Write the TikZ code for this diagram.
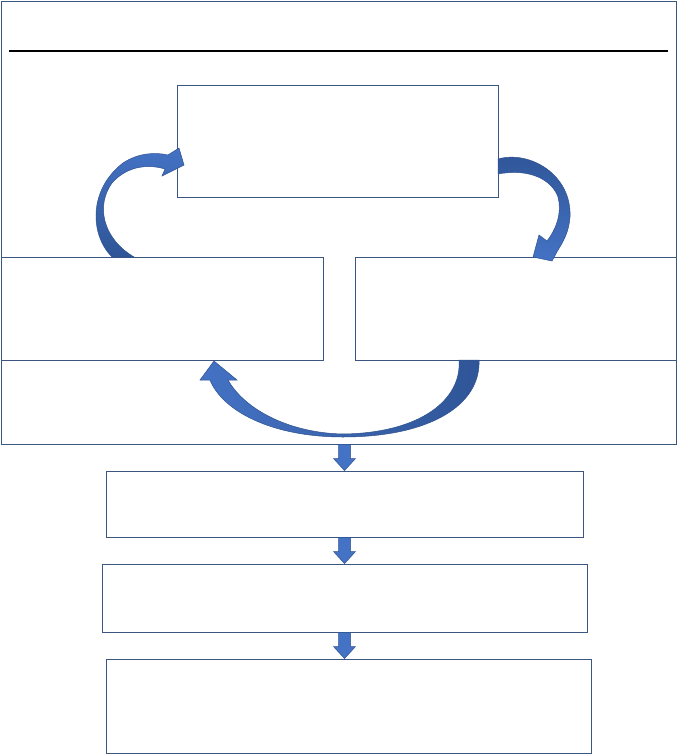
\documentclass[tikz,border=0pt]{standalone}
\usetikzlibrary{calc}
\definecolor{boxline}{RGB}{59,86,128}
\definecolor{afill}{RGB}{68,114,196}
\definecolor{adark}{RGB}{47,85,151}
\definecolor{aline}{RGB}{47,82,143}
\tikzset{
  boxnode/.style={draw=boxline, line width=0.9pt, fill=none, inner sep=0pt, rectangle},
  barrow/.style={fill=afill, draw=aline, line width=0.5pt},
  curvearrow/.style={draw=aline, line width=0.5pt},
}
\newcommand\dnarrow[2]{\filldraw[barrow] ($(#1)+(-6,0)$) -- ($(#1)+(6,0)$) -- ($(#2)+(6,-12)$) -- ($(#2)+(11,-12)$) -- (#2) -- ($(#2)+(-11,-12)$) -- ($(#2)+(-6,-12)$) -- cycle;}
\begin{document}
\begin{tikzpicture}[x=1pt,y=-1pt]
\useasboundingbox (0,0) rectangle (677,754);
\fill[white] (0,0) rectangle (677,754);
% outer frame and title rule
\node[boxnode, minimum width=675pt, minimum height=443pt] (frame) at (338.5,222.5) {};
\coordinate (ruleL) at (9,51);
\coordinate (ruleR) at (668,51);
\draw[black, line width=2.4pt] (ruleL) -- (ruleR);
% boxes
\node[boxnode, minimum width=321pt, minimum height=112pt] (top) at (337.5,141) {};
\node[boxnode, minimum width=322pt, minimum height=103pt] (left) at (162,308.5) {};
\node[boxnode, minimum width=321pt, minimum height=103pt] (right) at (515.5,308.5) {};
\node[boxnode, minimum width=477pt, minimum height=66pt] (b1) at (344.5,504) {};
\node[boxnode, minimum width=485pt, minimum height=68pt] (b2) at (344.5,598) {};
\node[boxnode, minimum width=485pt, minimum height=94pt] (b3) at (348.5,706) {};
% down block arrows
\coordinate (d1) at (frame.south -| b1.north);
\coordinate (t1) at (b1.north);
\coordinate (d2) at (b1.south -| b1.north);
\coordinate (t2) at (b2.north -| b1.north);
\coordinate (d3) at (b2.south -| b1.north);
\coordinate (t3) at (b3.north -| b1.north);
\dnarrow{d1}{t1}
\dnarrow{d2}{t2}
\dnarrow{d3}{t3}
% curved arrow: left box -> top box
\shadedraw[curvearrow, top color=afill, bottom color=adark]
  (112,257) .. controls (90,235) and (88,190) .. (123,163)
  .. controls (138,153) and (155,152) .. (168,155)
  -- (179,148) -- (184,165) -- (162,176) -- (165,169)
  .. controls (145,163) and (125,168) .. (112,183)
  .. controls (96,205) and (102,238) .. (134,257) -- cycle;
% curved arrow: top box -> right box
\shadedraw[curvearrow, top color=adark, bottom color=afill]
  (498,159) .. controls (530,150) and (572,175) .. (570,217)
  .. controls (569,232) and (563,242) .. (558,250)
  -- (552,261) -- (533,257) -- (539,235) -- (547,241)
  .. controls (557,228) and (562,212) .. (558,197)
  .. controls (552,180) and (530,168) .. (498,174) -- cycle;
% curved arrow: right box -> left box
\shadedraw[curvearrow, left color=afill, right color=adark]
  (479,360) .. controls (481,405) and (430,437) .. (343,437)
  .. controls (270,437) and (222,410) .. (210,380)
  -- (200,380) -- (214,361) -- (237,380) -- (228,380)
  .. controls (245,410) and (290,433) .. (343,434)
  .. controls (420,433) and (462,400) .. (459,360) -- cycle;
\end{tikzpicture}
\end{document}
